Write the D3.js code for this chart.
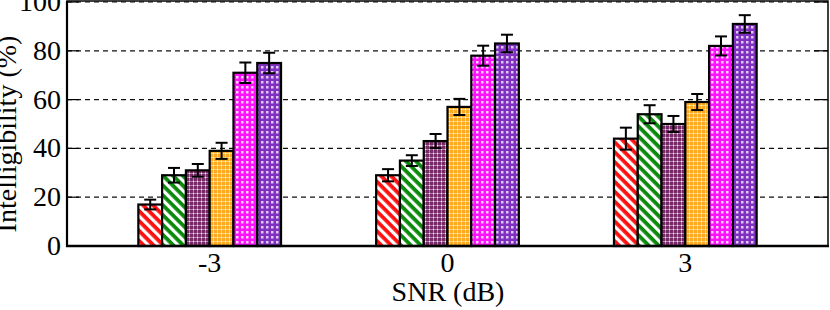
<!DOCTYPE html>
<html>
<head>
<meta charset="utf-8">
<script src="https://cdn.jsdelivr.net/npm/d3@7"></script>
<style>
  html, body { margin: 0; padding: 0; background: #fff; }
  svg { display: block; }
  text { font-family: "Liberation Serif", "DejaVu Serif", serif; fill: #000; }
</style>
</head>
<body>
<svg id="chart" width="830" height="310"></svg>
<script>
// SNR conditions (dB)
var snrLevels = [-3, 0, 3];
var snrLabels = ["-3", "0", "3"];

// one array per condition (bar series), values per SNR level
var seriesNames = ["s1", "s2", "s3", "s4", "s5", "s6"];
var meanValues = [
    [17, 29, 44],
    [29, 35, 54],
    [31, 43, 50],
    [39, 57, 59],
    [71, 78, 82],
    [75, 83, 91]
];
var errValues = [
    [2, 2.5, 4.5],
    [3, 2.2, 3.7],
    [2.6, 2.9, 3.3],
    [3.3, 3.3, 3.3],
    [4.2, 4.1, 3.9],
    [4.2, 3.6, 3.6]
];
var yTicks = [0, 20, 40, 60, 80, 100];

(function() {
    var svg = d3.select("#chart");
    var pLeft = 67, pRight = 828, pTop = 2, pBottom = 246;
    var fs = 28;

    var x = d3.scaleLinear().domain([-4.8, 4.8]).range([pLeft, pRight]);
    var y = d3.scaleLinear().domain([0, 100]).range([pBottom, pTop]);
    var boxWidth = 0.3; // in dB units

    // --- fill patterns
    var defs = svg.append("defs");

    function stripes(id, color) {
        var p = defs.append("pattern").attr("id", id)
            .attr("patternUnits", "userSpaceOnUse")
            .attr("width", 7).attr("height", 7)
            .attr("patternTransform", "rotate(45)");
        p.append("rect").attr("width", 7).attr("height", 7).attr("fill", "#fff");
        p.append("rect").attr("width", 7).attr("height", 3.8).attr("fill", color);
    }
    function grid(id, base, line, dot, size) {
        var p = defs.append("pattern").attr("id", id)
            .attr("patternUnits", "userSpaceOnUse")
            .attr("width", size).attr("height", size);
        p.append("rect").attr("width", size).attr("height", size).attr("fill", base);
        p.append("rect").attr("x", 1).attr("width", 1).attr("height", size).attr("fill", line);
        p.append("rect").attr("y", 1).attr("width", size).attr("height", 1).attr("fill", line);
        p.append("rect").attr("x", 1).attr("y", 1).attr("width", 1).attr("height", 1).attr("fill", dot);
    }
    function checks(id, base, sq, size, s) {
        var p = defs.append("pattern").attr("id", id)
            .attr("patternUnits", "userSpaceOnUse")
            .attr("width", size).attr("height", size);
        p.append("rect").attr("width", size).attr("height", size).attr("fill", base);
        p.append("rect").attr("x", 1).attr("y", 1).attr("width", s).attr("height", s).attr("fill", sq);
    }
    stripes("p0", "#ff1010");
    stripes("p1", "#0a8a0a");
    grid("p2", "#782a68", "#b480aa", "#ffffff", 4);
    grid("p3", "#ffaa1e", "#ffd27a", "#fff3d0", 4);
    checks("p4", "#ff10ff", "#ffd0ff", 5, 2.5);
    checks("p5", "#8030c0", "#e0c8f4", 5, 2.5);

    // --- gridlines (dashed) and inward ticks
    svg.append("g").selectAll("line")
        .data(yTicks)
      .enter().append("line")
        .attr("x1", pLeft).attr("x2", pRight)
        .attr("y1", function(d) { return y(d); })
        .attr("y2", function(d) { return y(d); })
        .attr("stroke", "#111").attr("stroke-width", 1.2)
        .attr("stroke-dasharray", "5,4");

    var tk = svg.append("g").attr("stroke", "#000").attr("stroke-width", 1.2);
    yTicks.forEach(function(d) {
        tk.append("line").attr("x1", pLeft).attr("x2", pLeft + 12)
            .attr("y1", y(d)).attr("y2", y(d));
        tk.append("line").attr("x1", pRight - 14).attr("x2", pRight)
            .attr("y1", y(d)).attr("y2", y(d));
    });

    // --- bars
    var bars = svg.append("g");
    seriesNames.forEach(function(name, i) {
        var offset = (i - 2.5) * boxWidth;
        bars.append("g").selectAll("rect")
            .data(meanValues[i])
          .enter().append("rect")
            .attr("x", function(d, j) { return x(snrLevels[j] + offset - boxWidth / 2); })
            .attr("y", function(d) { return y(d); })
            .attr("width", x(boxWidth) - x(0))
            .attr("height", function(d) { return y(0) - y(d); })
            .attr("fill", "url(#p" + i + ")")
            .attr("stroke", "#000").attr("stroke-width", 2.2);
    });

    // --- error bars
    var eb = svg.append("g").attr("stroke", "#000").attr("stroke-width", 2);
    seriesNames.forEach(function(name, i) {
        var offset = (i - 2.5) * boxWidth;
        meanValues[i].forEach(function(m, j) {
            var cx = x(snrLevels[j] + offset), e = errValues[i][j];
            eb.append("line").attr("x1", cx).attr("x2", cx).attr("y1", y(m - e)).attr("y2", y(m + e));
            eb.append("line").attr("x1", cx - 6).attr("x2", cx + 6).attr("y1", y(m - e)).attr("y2", y(m - e));
            eb.append("line").attr("x1", cx - 6).attr("x2", cx + 6).attr("y1", y(m + e)).attr("y2", y(m + e));
        });
    });

    // --- frame
    svg.append("rect").attr("x", pLeft).attr("y", pTop - 1)
        .attr("width", pRight - pLeft).attr("height", pBottom - pTop + 1)
        .attr("fill", "none").attr("stroke", "#000").attr("stroke-width", 1.5);
    svg.append("line").attr("x1", pLeft).attr("x2", pLeft).attr("y1", pTop - 1).attr("y2", pBottom + 1)
        .attr("stroke", "#000").attr("stroke-width", 2.2);
    svg.append("line").attr("x1", pLeft - 1).attr("x2", pRight + 1).attr("y1", pBottom).attr("y2", pBottom)
        .attr("stroke", "#000").attr("stroke-width", 2.5);

    // --- axis labels
    svg.append("g").selectAll("text")
        .data(yTicks)
      .enter().append("text")
        .attr("x", 61).attr("y", function(d) { return y(d) + 9; })
        .attr("text-anchor", "end").attr("font-size", fs)
        .text(function(d) { return d; });

    svg.append("g").selectAll("text")
        .data(snrLevels)
      .enter().append("text")
        .attr("x", function(d) { return x(d); }).attr("y", 272)
        .attr("text-anchor", "middle").attr("font-size", fs)
        .text(function(d, i) { return snrLabels[i]; });

    svg.append("text").attr("x", 448).attr("y", 301)
        .attr("text-anchor", "middle").attr("font-size", fs)
        .text("SNR (dB)");

    svg.append("text")
        .attr("transform", "translate(16,134) rotate(-90)")
        .attr("text-anchor", "middle").attr("font-size", fs)
        .text("Intelligibility (%)");
})();
</script>
</body>
</html>
